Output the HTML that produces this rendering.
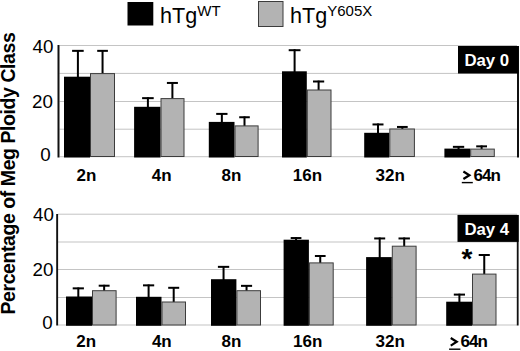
<!DOCTYPE html>
<html><head><meta charset="utf-8"><style>
html,body{margin:0;padding:0;background:#fff;width:520px;height:351px;overflow:hidden}
svg{display:block}
text{font-family:"Liberation Sans",sans-serif;fill:#000}
.bx{font-weight:bold;font-size:16.8px;fill:#fff}
.yl{font-size:18.8px}
.xl{font-weight:bold;font-size:17px}
.lg{font-size:21.6px}
.sup{font-size:15px}
.yt{font-weight:bold;font-size:19.5px}
.ast{font-weight:bold;font-size:28px}
</style></head><body>
<svg width="520" height="351" viewBox="0 0 520 351">
<rect x="59.5" y="45.0" width="457.5" height="1" fill="#c4c4c4"/>
<rect x="59.5" y="72.9" width="457.5" height="1" fill="#c4c4c4"/>
<rect x="59.5" y="101.0" width="457.5" height="1" fill="#c4c4c4"/>
<rect x="59.5" y="128.7" width="457.5" height="1" fill="#c4c4c4"/>
<rect x="59.5" y="156.2" width="457.5" height="1" fill="#c4c4c4"/>
<rect x="76.9" y="50" width="2" height="27.7" fill="#000"/>
<rect x="72.1" y="49.85" width="11.6" height="2.0" fill="#000"/>
<rect x="64" y="76.7" width="26" height="80.8" fill="#000"/>
<rect x="101.55" y="50" width="2" height="24.1" fill="#000"/>
<rect x="97.2" y="49.85" width="10.7" height="2.0" fill="#000"/>
<rect x="90.5" y="73.6" width="24" height="82.9" fill="#b3b3b3" stroke="#3c3c3c" stroke-width="1"/>
<rect x="146.9" y="97.3" width="2" height="10.5" fill="#000"/>
<rect x="142.1" y="97.15" width="11.6" height="2.0" fill="#000"/>
<rect x="134.1" y="106.8" width="26.4" height="50.7" fill="#000"/>
<rect x="171.4" y="82.1" width="2" height="17.0" fill="#000"/>
<rect x="166.9" y="81.95" width="11.0" height="2.0" fill="#000"/>
<rect x="161.0" y="98.6" width="23.0" height="57.9" fill="#b3b3b3" stroke="#3c3c3c" stroke-width="1"/>
<rect x="220.85" y="113.0" width="2" height="9.9" fill="#000"/>
<rect x="216.2" y="112.9" width="11.3" height="2.0" fill="#000"/>
<rect x="208.8" y="121.9" width="25.7" height="35.6" fill="#000"/>
<rect x="243.5" y="116.4" width="2" height="10.0" fill="#000"/>
<rect x="239.2" y="116.25" width="10.6" height="2.0" fill="#000"/>
<rect x="235.0" y="125.9" width="23.1" height="30.6" fill="#b3b3b3" stroke="#3c3c3c" stroke-width="1"/>
<rect x="293.6" y="49.2" width="2" height="23.1" fill="#000"/>
<rect x="288.7" y="49.2" width="11.8" height="2.0" fill="#000"/>
<rect x="282.0" y="71.3" width="24.8" height="86.2" fill="#000"/>
<rect x="317.6" y="80.6" width="2" height="9.9" fill="#000"/>
<rect x="313" y="80.5" width="11.2" height="2.0" fill="#000"/>
<rect x="307.3" y="90.0" width="23.7" height="66.5" fill="#b3b3b3" stroke="#3c3c3c" stroke-width="1"/>
<rect x="377.0" y="123.5" width="2" height="10.3" fill="#000"/>
<rect x="372.5" y="123.45" width="11.0" height="2.0" fill="#000"/>
<rect x="364.2" y="132.8" width="25.1" height="24.7" fill="#000"/>
<rect x="401.35" y="126.1" width="2" height="3.4" fill="#000"/>
<rect x="397.0" y="125.95" width="10.7" height="2.0" fill="#000"/>
<rect x="389.8" y="129.0" width="24.6" height="27.5" fill="#b3b3b3" stroke="#3c3c3c" stroke-width="1"/>
<rect x="457.55" y="146.0" width="2" height="3.6" fill="#000"/>
<rect x="452.9" y="145.85" width="11.3" height="2.0" fill="#000"/>
<rect x="444.4" y="148.6" width="25.8" height="8.9" fill="#000"/>
<rect x="480.6" y="145.5" width="2" height="4.1" fill="#000"/>
<rect x="476.2" y="145.35" width="10.8" height="2.0" fill="#000"/>
<rect x="470.7" y="149.1" width="23.6" height="7.4" fill="#b3b3b3" stroke="#3c3c3c" stroke-width="1"/>
<rect x="57.5" y="45" width="2.0" height="112.5" fill="#111"/>
<rect x="517" y="46" width="2" height="111.5" fill="#111"/>
<rect x="458" y="46" width="60.5" height="27.5" fill="#000"/>
<text x="464.4" y="65.8" class="bx">Day 0</text>
<text x="53.5" y="52.8" class="yl" text-anchor="end">40</text>
<text x="53" y="107.8" class="yl" text-anchor="end">20</text>
<text x="50.8" y="161.3" class="yl" text-anchor="end">0</text>
<text x="76.5" y="181" class="xl">2n</text>
<text x="151.8" y="181" class="xl">4n</text>
<text x="221.5" y="181" class="xl">8n</text>
<text x="292.8" y="181" class="xl">16n</text>
<text x="375.5" y="181" class="xl">32n</text>
<text x="473.5" y="181" class="xl" letter-spacing="-1">64n</text>
<polyline points="463.4,171.45 469.4,175.25 463.4,179.05" fill="none" stroke="#000" stroke-width="2.2" stroke-linejoin="miter" stroke-miterlimit="10"/>
<rect x="461.8" y="181.9" width="11.0" height="1.4" fill="#000"/>
<rect x="58" y="213.7" width="459" height="1" fill="#c4c4c4"/>
<rect x="58" y="241.5" width="459" height="1" fill="#c4c4c4"/>
<rect x="58" y="269.0" width="459" height="1" fill="#c4c4c4"/>
<rect x="58" y="297.0" width="459" height="1" fill="#c4c4c4"/>
<rect x="58" y="324.5" width="459" height="1" fill="#c4c4c4"/>
<rect x="77.3" y="287.5" width="2" height="10.0" fill="#000"/>
<rect x="72.7" y="287.35" width="11.2" height="2.0" fill="#000"/>
<rect x="66" y="296.5" width="26" height="29.3" fill="#000"/>
<rect x="103.15" y="284.8" width="2" height="6.4" fill="#000"/>
<rect x="98.7" y="284.7" width="10.9" height="2.0" fill="#000"/>
<rect x="92.5" y="290.7" width="23.6" height="34.3" fill="#b3b3b3" stroke="#3c3c3c" stroke-width="1"/>
<rect x="147.6" y="284.5" width="2" height="13.3" fill="#000"/>
<rect x="143" y="284.35" width="11.2" height="2.0" fill="#000"/>
<rect x="136" y="296.8" width="25.5" height="29.0" fill="#000"/>
<rect x="172.7" y="287" width="2" height="15.5" fill="#000"/>
<rect x="168.2" y="286.8" width="11.0" height="2.0" fill="#000"/>
<rect x="162.0" y="302.0" width="23.5" height="23.0" fill="#b3b3b3" stroke="#3c3c3c" stroke-width="1"/>
<rect x="222.55" y="266" width="2" height="14.2" fill="#000"/>
<rect x="217.9" y="265.85" width="11.3" height="2.0" fill="#000"/>
<rect x="211" y="279.2" width="25.4" height="46.6" fill="#000"/>
<rect x="245.55" y="285" width="2" height="6.2" fill="#000"/>
<rect x="241" y="284.85" width="11.1" height="2.0" fill="#000"/>
<rect x="236.9" y="290.7" width="23.6" height="34.3" fill="#b3b3b3" stroke="#3c3c3c" stroke-width="1"/>
<rect x="295.05" y="237.1" width="2" height="3.6" fill="#000"/>
<rect x="290.7" y="237.05" width="10.7" height="2.0" fill="#000"/>
<rect x="283.6" y="239.7" width="25.3" height="86.1" fill="#000"/>
<rect x="319.25" y="255" width="2" height="8.4" fill="#000"/>
<rect x="314.9" y="255.0" width="10.7" height="2.0" fill="#000"/>
<rect x="309.4" y="262.9" width="23.8" height="62.1" fill="#b3b3b3" stroke="#3c3c3c" stroke-width="1"/>
<rect x="378.7" y="237.5" width="2" height="20.6" fill="#000"/>
<rect x="374.2" y="237.45" width="11.0" height="2.0" fill="#000"/>
<rect x="366.1" y="257.1" width="25.7" height="68.7" fill="#000"/>
<rect x="403.2" y="237.5" width="2" height="9.2" fill="#000"/>
<rect x="398.5" y="237.45" width="11.4" height="2.0" fill="#000"/>
<rect x="392.3" y="246.2" width="23.8" height="78.8" fill="#b3b3b3" stroke="#3c3c3c" stroke-width="1"/>
<rect x="458.4" y="293.7" width="2" height="9.0" fill="#000"/>
<rect x="453.8" y="293.6" width="11.2" height="2.0" fill="#000"/>
<rect x="446.2" y="301.7" width="25.8" height="24.1" fill="#000"/>
<rect x="483.25" y="254" width="2" height="20.6" fill="#000"/>
<rect x="478.7" y="254.0" width="11.1" height="2.0" fill="#000"/>
<rect x="472.5" y="274.1" width="23.5" height="50.9" fill="#b3b3b3" stroke="#3c3c3c" stroke-width="1"/>
<rect x="56.2" y="214" width="1.9" height="111.5" fill="#111"/>
<rect x="516.8" y="215" width="1.8" height="110.5" fill="#111"/>
<rect x="457.5" y="214.9" width="61.1" height="27.0" fill="#000"/>
<text x="464.4" y="234.6" class="bx">Day 4</text>
<text x="54" y="221.3" class="yl" text-anchor="end">40</text>
<text x="53.5" y="275.6" class="yl" text-anchor="end">20</text>
<text x="52.6" y="329" class="yl" text-anchor="end">0</text>
<text x="76.3" y="347" class="xl">2n</text>
<text x="151.9" y="347" class="xl">4n</text>
<text x="221.5" y="347" class="xl">8n</text>
<text x="293.0" y="347" class="xl">16n</text>
<text x="375.5" y="347" class="xl">32n</text>
<text x="460.5" y="347" class="xl" letter-spacing="-1">64n</text>
<polyline points="450.75,338.0 456.75,341.8 450.75,345.6" fill="none" stroke="#000" stroke-width="2.2" stroke-linejoin="miter" stroke-miterlimit="10"/>
<rect x="449.1" y="348.5" width="11.3" height="1.4" fill="#000"/>
<text x="461.5" y="268.1" class="ast">*</text>
<rect x="127.5" y="2" width="25.8" height="23.5" fill="#000"/>
<text x="160.0" y="23.0" class="lg">hTg<tspan class="sup" dy="-6.8">WT</tspan></text>
<rect x="258.5" y="1.5" width="24.5" height="25" fill="#b3b3b3" stroke="#3c3c3c" stroke-width="1"/>
<text x="290.0" y="23.0" class="lg">hTg<tspan class="sup" dy="-6.8">Y605X</tspan></text>
<text transform="translate(15.3,314.5) rotate(-90)" class="yt" textLength="282.3" lengthAdjust="spacing">Percentage of Meg Ploidy Class</text>
</svg>
</body></html>
